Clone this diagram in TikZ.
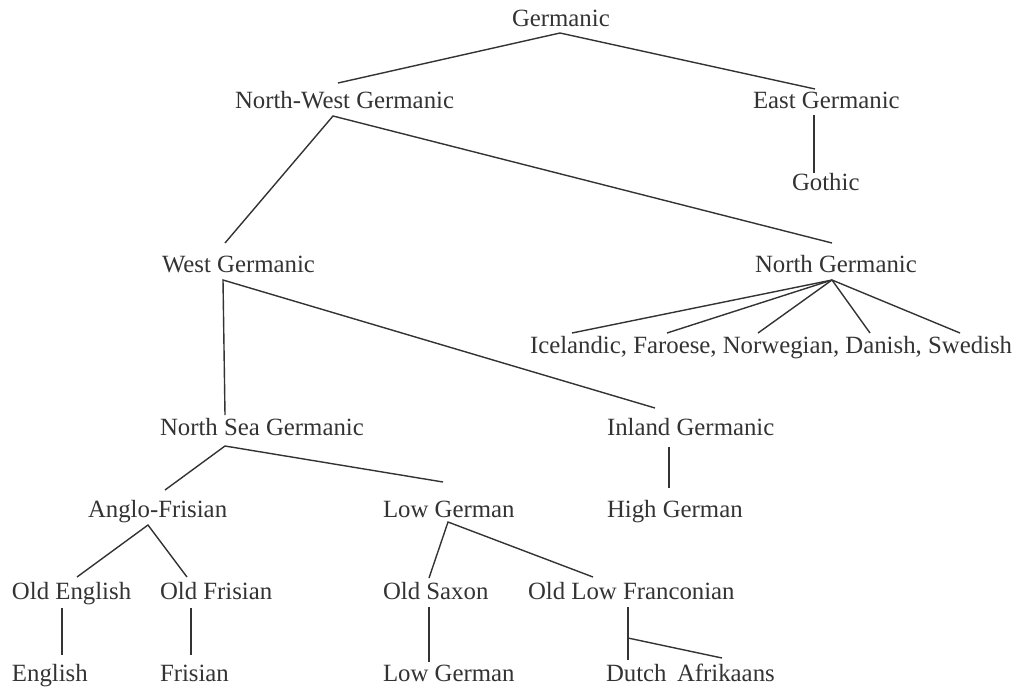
\documentclass[tikz,border=0pt]{standalone}
\usepackage{fontspec}
\setmainfont{Liberation Serif}
\usetikzlibrary{calc}
\definecolor{ink}{HTML}{333333}
\tikzset{
  lang/.style={anchor=base west, inner sep=0pt, outer sep=0pt, text=ink,
    font=\fontsize{24.8}{29}\selectfont},
  branch/.style={draw=ink, line width=1.4pt}
}
\newcommand{\at}[3]{($(#1.base west)+(#2,#3)$)}
\begin{document}
\begin{tikzpicture}[x=1pt,y=-1pt]
\useasboundingbox (0,0) rectangle (1016,686);
% nodes
\node[lang] (germ) at (512,26) {Germanic};
\node[lang] (nwg) at (235,108) {North-West Germanic};
\node[lang] (eg) at (753,108) {East Germanic};
\node[lang] (goth) at (792,190) {Gothic};
\node[lang] (wg) at (162,272) {West Germanic};
\node[lang] (ng) at (755,272) {North Germanic};
\node[lang] (nlang) at (530,353) {Icelandic, Faroese, Norwegian, Danish, Swedish};
\node[lang] (nsg) at (160,435) {North Sea Germanic};
\node[lang] (ig) at (607,435) {Inland Germanic};
\node[lang] (af) at (88,517) {Anglo-Frisian};
\node[lang] (lg) at (383,517) {Low German};
\node[lang] (hg) at (607,517) {High German};
\node[lang] (oe) at (12,599) {Old English};
\node[lang] (of) at (160,599) {Old Frisian};
\node[lang] (os) at (383,599) {Old Saxon};
\node[lang] (olf) at (528,599) {Old Low Franconian};
\node[lang] (en) at (12,681) {English};
\node[lang] (fr) at (160,681) {Frisian};
\node[lang] (lgb) at (383,681) {Low German};
\node[lang] (du) at (606,681) {Dutch};
\node[lang] (afr) at (677,681) {Afrikaans};
% connectors
\draw[branch] \at{nwg}{103}{-25} -- \at{germ}{48}{7} -- \at{eg}{62}{-19};
\draw[branch] \at{eg}{61}{7} -- \at{goth}{22}{-17};
\draw[branch] \at{wg}{63}{-29} -- \at{nwg}{98}{8} -- \at{ng}{77}{-29};
\foreach \dx in {42,137,228,340,430}
  \draw[branch] \at{ng}{77}{8} -- \at{nlang}{\dx}{-20};
\draw[branch] \at{nsg}{65}{-20} -- \at{wg}{61}{8} -- \at{ig}{48}{-27};
\draw[branch] \at{af}{77}{-27} -- \at{nsg}{65}{11} -- \at{lg}{60}{-35};
\draw[branch] \at{ig}{62}{12} -- \at{hg}{62}{-29};
\draw[branch] \at{oe}{65}{-22} -- \at{af}{60}{8} -- \at{of}{27}{-22};
\draw[branch] \at{os}{46}{-21} -- \at{lg}{65}{5} -- \at{olf}{65}{-22};
\draw[branch] \at{oe}{50}{9} -- \at{en}{50}{-26};
\draw[branch] \at{of}{31}{9} -- \at{fr}{31}{-26};
\draw[branch] \at{os}{46}{8} -- \at{lgb}{46}{-19};
\coordinate (j) at ($(olf.base west)+(100,39)$);
\draw[branch] \at{olf}{100}{8} -- \at{du}{22}{-21};
\draw[branch] (j) -- \at{afr}{45}{-23};
\end{tikzpicture}
\end{document}
